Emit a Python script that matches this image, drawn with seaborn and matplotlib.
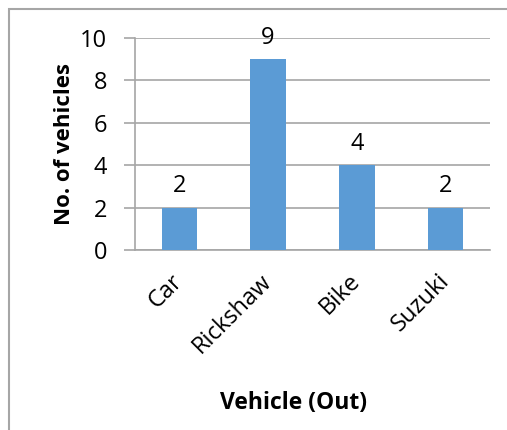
import matplotlib
matplotlib.use("Agg")
import matplotlib.pyplot as plt
import seaborn as sns
import pandas as pd
from matplotlib.patches import Rectangle

categories = ["Car", "Rickshaw", "Bike", "Suzuki"]
values = [2, 9, 4, 2]
yticks = [0, 2, 4, 6, 8, 10]

sns.set_theme(style="white")
plt.rcParams['font.family'] = ['Open Sans', 'DejaVu Sans']

df = pd.DataFrame({"Vehicle": categories, "Count": values})

W, H = 507, 430
fig = plt.figure(figsize=(W / 100, H / 100), dpi=100)
ax = fig.add_axes([135 / W, 1 - 250 / H, (490 - 135) / W, (250 - 38) / H])

sns.barplot(data=df, x="Vehicle", y="Count", color="#5B9BD5", width=0.4,
            saturation=1, ax=ax, zorder=3, edgecolor="none", linewidth=0)

ax.set_ylim(0, 10)
ax.set_xlim(-0.5, len(categories) - 0.5)
ax.set_yticks(yticks)
ax.set_yticklabels([str(t) for t in yticks], fontsize=17, color="#000000")
ax.yaxis.grid(True, color="#A6A6A6", linewidth=1.2, zorder=0)
ax.xaxis.grid(False)
for s in ["top", "right"]:
    ax.spines[s].set_visible(False)
ax.spines["left"].set_color("#A6A6A6")
ax.spines["bottom"].set_color("#A6A6A6")
ax.spines["left"].set_linewidth(1.2)
ax.spines["bottom"].set_linewidth(1.2)
ax.tick_params(axis="y", which="major", left=True, length=8, width=1.2,
               color="#A6A6A6", pad=12)
ax.tick_params(axis="x", bottom=False, pad=14)
ax.set_xticks(range(len(categories)))
ax.set_xticklabels(categories, rotation=45, ha="right", va="center",
                   rotation_mode="anchor", fontsize=17, color="#000000")

for i, v in enumerate(values):
    ax.text(i, v + 0.45, str(v), ha="center", va="bottom", fontsize=17, color="#000000")

ax.set_ylabel("No. of vehicles", fontsize=16, fontweight="bold", color="#000000", labelpad=4)
ax.set_xlabel("")
fig.text(294 / W, 1 - 403 / H, "Vehicle (Out)", ha="center", va="center",
         fontsize=16.5, fontweight="bold", color="#000000")

fig.patches.append(Rectangle((9 / W, -0.1), 1.2, 1 - 9 / H + 0.1, transform=fig.transFigure,
                             fill=False, edgecolor="#A6A6A6", linewidth=1.5, figure=fig))

fig.savefig("out.png", dpi=100)
